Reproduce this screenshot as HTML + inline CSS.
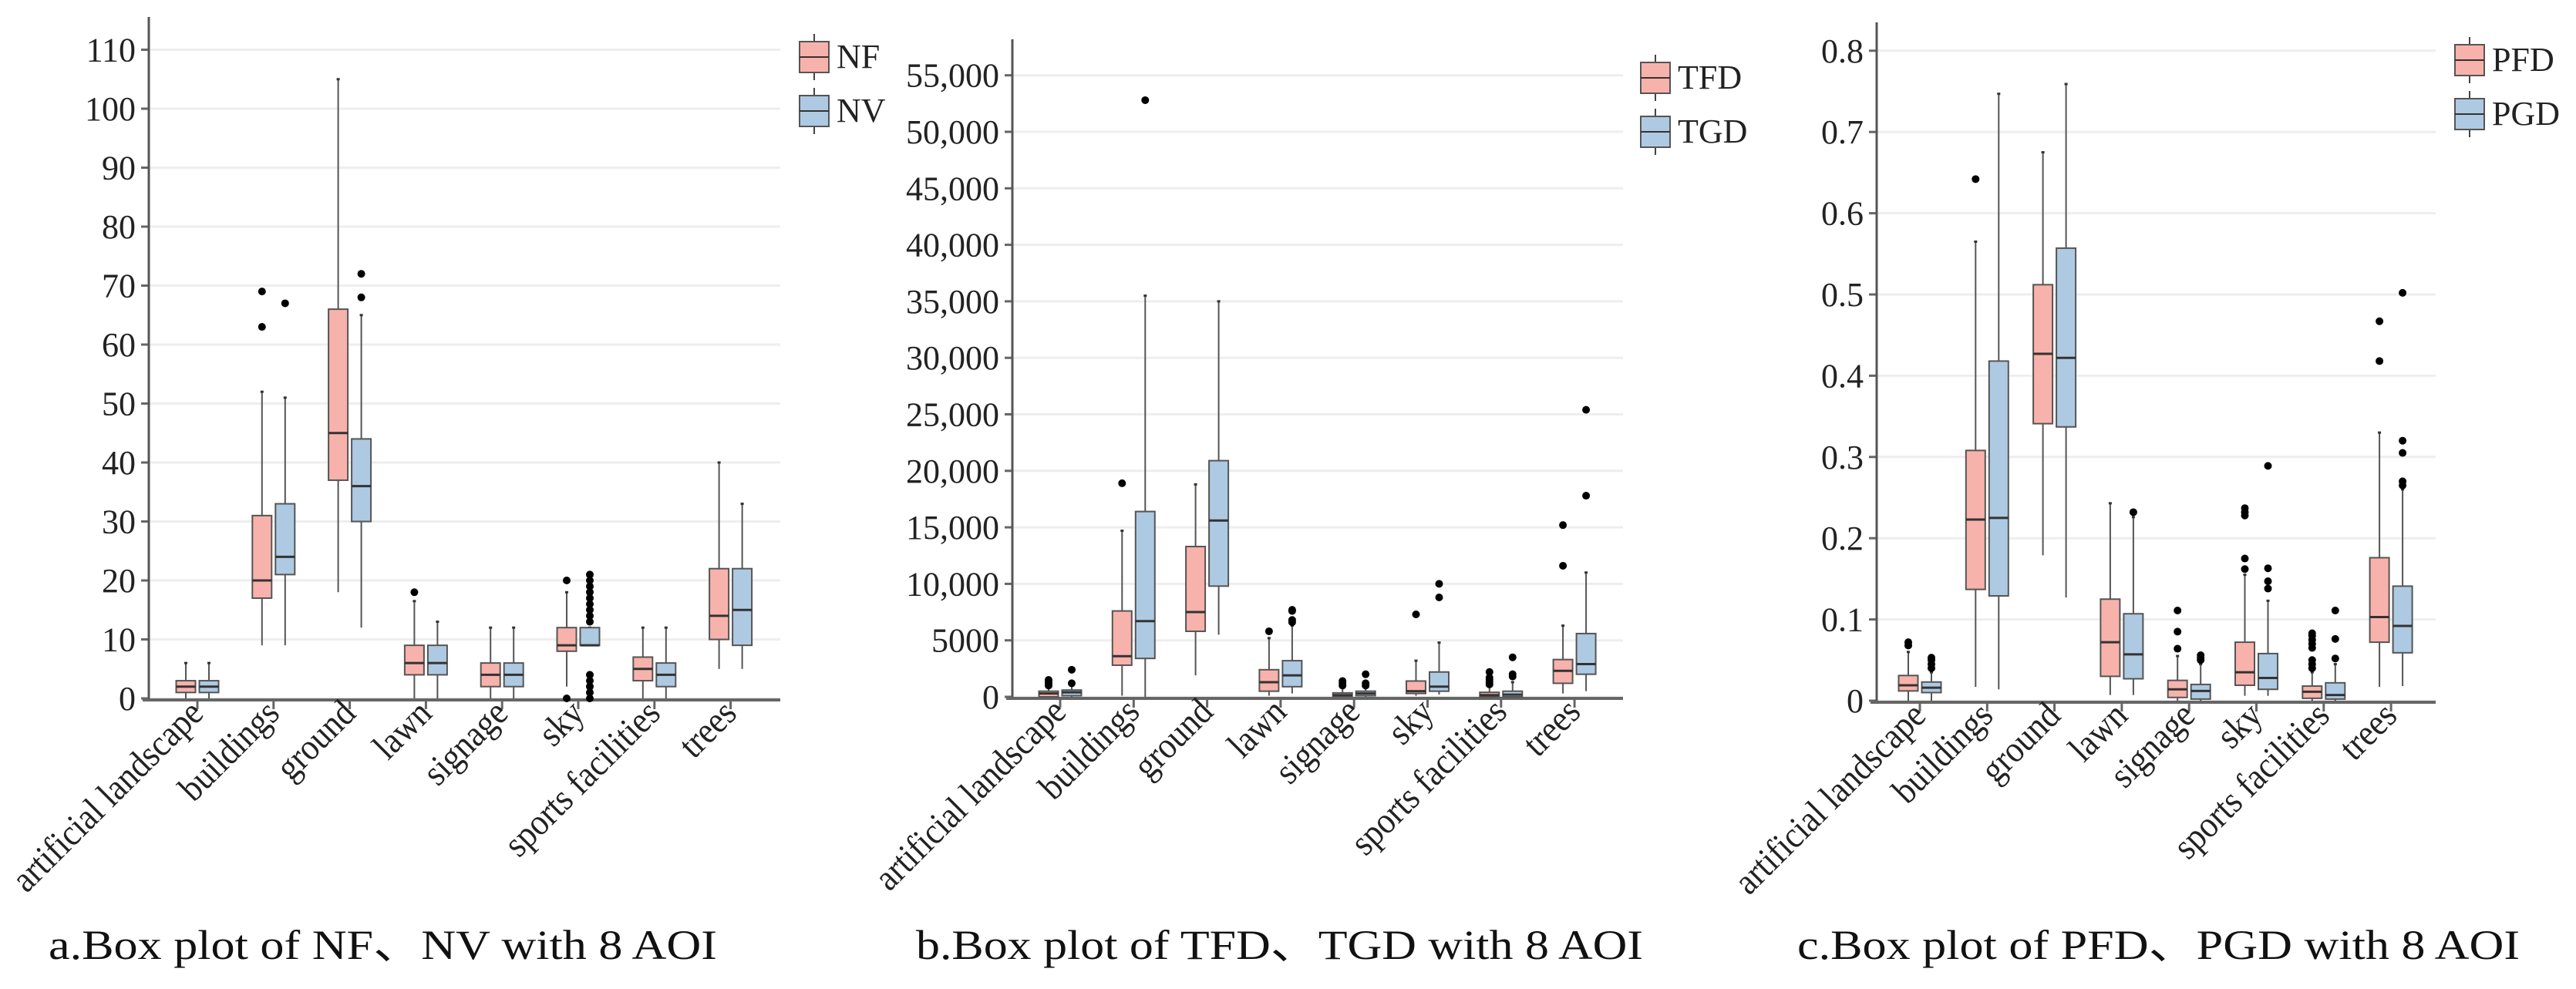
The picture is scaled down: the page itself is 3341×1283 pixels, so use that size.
<!DOCTYPE html>
<html><head><meta charset="utf-8"><style>
html,body{margin:0;padding:0;background:#fff;}
svg{display:block;font-family:"Liberation Serif",serif;}
</style></head><body>
<svg id="chart" width="3341" height="1283" viewBox="0 0 3341 1283" xmlns="http://www.w3.org/2000/svg"></svg>
<script>
const categories = ["artificial landscape","buildings","ground","lawn","signage","sky","sports facilities","trees"];
// [low whisker, q1, median, q3, high whisker]
const nfStats = [[0,1,2,3,6],[9,17,20,31,52],[18,37,45,66,105],[0,4,6,9,16.5],[0,2,4,6,12],[2,8,9,12,18],[0,3,5,7,12],[5,10,14,22,40]];
const nvStats = [[0,1,2,3,6],[9,21,24,33,51],[12,30,36,44,65],[0,4,6,9,13],[0,2,4,6,12],[9,9,9,12,12],[0,2,4,6,12],[5,9,15,22,33]];
const nfOut = [[],[63,69],[],[18],[],[0,20],[],[]];
const nvOut = [[],[67],[68,72],[],[],[0,1,2,3,4,13,14,15,16,17,18,19,20,21],[],[]];
const aTicks = [0,10,20,30,40,50,60,70,80,90,100,110];

const tfdStats = [[0,0,300,500,900],[100,2800,3600,7600,14700],[1900,5800,7500,13300,18800],[100,500,1300,2400,5200],[0,50,150,350,800],[100,300,500,1400,3200],[0,0,150,400,1000],[300,1200,2300,3300,6300]];
const tgdStats = [[0,100,400,600,1000],[0,3400,6700,16400,35500],[5500,9800,15600,20900,35000],[300,900,1900,3200,6300],[0,100,300,500,900],[200,500,900,2200,4800],[0,0,200,500,1300],[500,2000,2900,5600,11000]];
const tfdOut = [[1000,1200,1400,1500],[18900],[],[5800],[1000,1200,1400],[7300],[1100,1300,1500,1700,2200],[11600,15200]];
const tgdOut = [[1200,2400],[52800],[],[6600,6800,7600,7700],[1000,1200,2000],[8800,10000],[1800,2000,3500],[17800,25400]];
const bTicks = [0,5000,10000,15000,20000,25000,30000,35000,40000,45000,50000,55000];
const bTickLabels = ["0","5000","10,000","15,000","20,000","25,000","30,000","35,000","40,000","45,000","50,000","55,000"];

const pfdStats = [[0,0.012,0.019,0.031,0.06],[0.017,0.137,0.223,0.308,0.565],[0.179,0.341,0.427,0.512,0.675],[0.007,0.03,0.072,0.125,0.243],[0,0.004,0.014,0.025,0.055],[0.006,0.019,0.035,0.072,0.155],[0,0.003,0.011,0.018,0.035],[0.017,0.072,0.103,0.176,0.33]];
const pgdStats = [[0,0.01,0.016,0.023,0.035],[0.014,0.129,0.225,0.418,0.747],[0.127,0.337,0.422,0.557,0.759],[0.007,0.027,0.057,0.107,0.226],[0,0.002,0.012,0.02,0.045],[0.006,0.014,0.028,0.058,0.123],[0,0.002,0.007,0.022,0.045],[0.018,0.059,0.092,0.141,0.26]];
const pfdOut = [[0.068,0.072],[0.642],[],[],[0.064,0.085,0.111],[0.162,0.175,0.228,0.232,0.237],[0.04,0.045,0.05,0.065,0.07,0.075,0.08,0.083],[0.418,0.467]];
const pgdOut = [[0.04,0.045,0.05,0.053],[],[],[0.232],[0.05,0.053,0.056],[0.138,0.147,0.163,0.289],[0.052,0.076,0.111],[0.265,0.27,0.305,0.32,0.502]];
const cTicks = [0,0.1,0.2,0.3,0.4,0.5,0.6,0.7,0.8];
const cTickLabels = ["0","0.1","0.2","0.3","0.4","0.5","0.6","0.7","0.8"];

const NS = "http://www.w3.org/2000/svg";
const svg = document.getElementById("chart");
function mk(tag, attrs, parent){
  const e = document.createElementNS(NS, tag);
  for (const k in attrs) e.setAttribute(k, attrs[k]);
  (parent || svg).appendChild(e);
  return e;
}

function panel(cfg){
  const g = mk("g", {});
  
  
  const y = v => cfg.y0 - (v / cfg.tickStep) * cfg.tickPx;
  const x = i => cfg.x0 + i * cfg.step;
  cfg.ticks.forEach((t, i) => {
    const gl = mk("line", {x1: cfg.axisX, x2: cfg.gridEnd, y1: y(t), y2: y(t), stroke: "#eeeeee", "stroke-width": 3}, g);
    
    
    mk("line", {x1: cfg.axisX - 10, x2: cfg.axisX, y1: y(t), y2: y(t), stroke: "#666", "stroke-width": 3}, g);
    const tl = mk("text", {x: cfg.axisX - 17, y: y(t) + 15, "text-anchor": "end", "font-size": 44, fill: "#222"}, g);
    tl.textContent = cfg.tickLabels[i];
    
    
  });
  const ya = mk("line", {x1: cfg.axisX, x2: cfg.axisX, y1: cfg.axisTop, y2: cfg.y0, stroke: "#555", "stroke-width": 3}, g);
  
  
  const xa = mk("line", {x1: cfg.axisX - 8, x2: cfg.gridEnd, y1: cfg.y0 + 2, y2: cfg.y0 + 2, stroke: "#666", "stroke-width": 4}, g);
  
  
  categories.forEach((c, i) => {
    mk("line", {x1: x(i), x2: x(i), y1: cfg.y0 + 2, y2: cfg.y0 + 14, stroke: "#666", "stroke-width": 3}, g);
    const lx = x(i) + 10, ly = cfg.y0 + 22;
    const t = mk("text", {x: 0, y: 0, "text-anchor": "end", "font-size": 48, fill: "#222", transform: `translate(${lx} ${ly}) rotate(-45) scale(0.9 1)`}, g);
    t.textContent = c;
    
    
  });
  const series = [
    {stats: cfg.s1, out: cfg.s1o, fill: "#f8b2ac", off: -15, name: cfg.n1},
    {stats: cfg.s2, out: cfg.s2o, fill: "#aecae3", off: 15, name: cfg.n2}
  ];
  series.forEach(s => {
    s.stats.forEach((st, i) => {
      const cx = x(i) + s.off, w = 25;
      const bg = mk("g", {}, g);
      
      
      mk("line", {x1: cx, x2: cx, y1: y(st[0]), y2: y(st[4]), stroke: "#555", "stroke-width": 2}, bg);
      mk("line", {x1: cx - 2, x2: cx + 2, y1: y(st[4]), y2: y(st[4]), stroke: "#333", "stroke-width": 3}, bg);
      mk("rect", {x: cx - w / 2, y: y(st[3]), width: w, height: Math.max(1, y(st[1]) - y(st[3])), fill: s.fill, stroke: "#555", "stroke-width": 2}, bg);
      mk("line", {x1: cx - w / 2, x2: cx + w / 2, y1: y(st[2]), y2: y(st[2]), stroke: "#333", "stroke-width": 3}, bg);
      s.out[i].forEach(v => {
        const o = mk("circle", {cx: cx, cy: y(v), r: 5, fill: "#000"}, bg);
        
        
      });
    });
  });
  [[cfg.n1, "#f8b2ac", cfg.legY], [cfg.n2, "#aecae3", cfg.legY + 70]].forEach(([n, f, ly]) => {
    const lg = mk("g", {}, g);
    
    
    const lx = cfg.legX;
    mk("line", {x1: lx + 19, x2: lx + 19, y1: ly - 10, y2: ly + 50, stroke: "#444", "stroke-width": 2}, lg);
    mk("rect", {x: lx, y: ly, width: 38, height: 40, fill: f, stroke: "#555", "stroke-width": 2}, lg);
    mk("line", {x1: lx, x2: lx + 38, y1: ly + 20, y2: ly + 20, stroke: "#333", "stroke-width": 2}, lg);
    const lt = mk("text", {x: lx + 48, y: ly + 34, "font-size": 44, fill: "#222"}, lg);
    lt.textContent = n;
  });
  const tt = mk("text", {x: cfg.titleX, y: 1244, "font-size": 54, fill: "#111", textLength: cfg.titleW, lengthAdjust: "spacingAndGlyphs"}, g);
  tt.textContent = cfg.title;
  
  
}

panel({id: "a", x0: 256, step: 98.8, axisX: 193, axisTop: 22, gridEnd: 1012, y0: 906, tickStep: 10, tickPx: 76.5,
  ticks: aTicks, tickLabels: aTicks.map(String), s1: nfStats, s2: nvStats, s1o: nfOut, s2o: nvOut, n1: "NF", n2: "NV",
  legX: 1037, legY: 54, titleX: 63, titleW: 867, title: "a.Box plot of NF、NV with 8 AOI"});
panel({id: "b", x0: 1375, step: 95.3, axisX: 1313, axisTop: 51, gridEnd: 2105, y0: 904, tickStep: 5000, tickPx: 73.3,
  ticks: bTicks, tickLabels: bTickLabels, s1: tfdStats, s2: tgdStats, s1o: tfdOut, s2o: tgdOut, n1: "TFD", n2: "TGD",
  legX: 2128, legY: 81, titleX: 1188, titleW: 943, title: "b.Box plot of TFD、TGD with 8 AOI"});
panel({id: "c", x0: 2490, step: 87.3, axisX: 2434, axisTop: 29, gridEnd: 3159, y0: 909, tickStep: 0.1, tickPx: 105.4,
  ticks: cTicks, tickLabels: cTickLabels, s1: pfdStats, s2: pgdStats, s1o: pfdOut, s2o: pgdOut, n1: "PFD", n2: "PGD",
  legX: 3184, legY: 58, titleX: 2331, titleW: 937, title: "c.Box plot of PFD、PGD with 8 AOI"});
</script>
</body></html>
